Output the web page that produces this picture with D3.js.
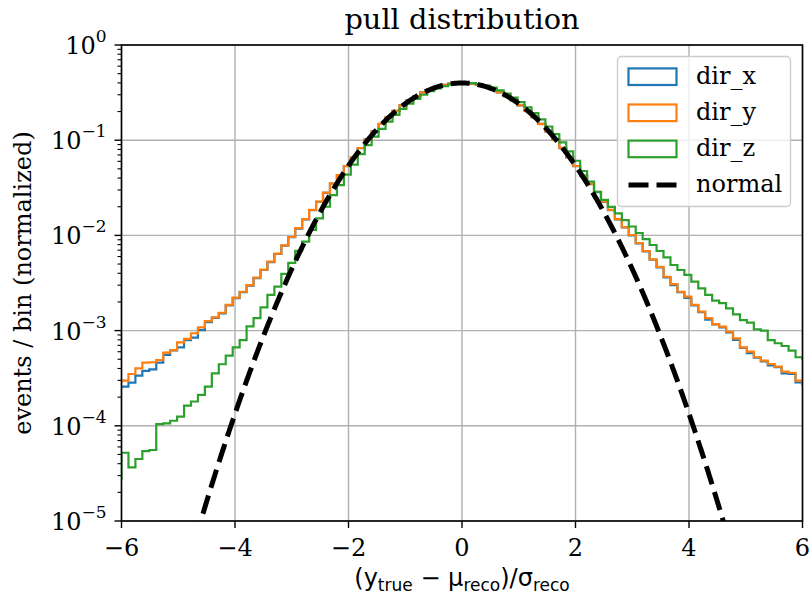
<!DOCTYPE html>
<html>
<head>
<meta charset="utf-8">
<script src="https://cdn.jsdelivr.net/npm/d3@7"></script>
<style>
  body { margin: 0; background: #fff; }
  svg { display: block; }
</style>
</head>
<body>
<svg id="chart" width="810" height="597"></svg>
<script>
// Histogram binning: 98 bins over [-6, 6] plus one overflow bin on each side
const binWidth = 12 / 98;
const binLo = -6 - binWidth;

// Normalized counts per bin (events / bin), left to right
const dirX = [
  2.55e-4,
  2.58e-4, 2.84e-4, 3.36e-4, 3.77e-4, 3.92e-4, 4.60e-4, 5.55e-4, 6.20e-4, 6.68e-4, 7.96e-4,
  8.45e-4, 1.01e-3, 1.23e-3, 1.36e-3, 1.52e-3, 1.84e-3, 2.19e-3, 2.53e-3, 2.97e-3, 3.56e-3,
  4.33e-3, 5.25e-3, 6.38e-3, 7.82e-3, 9.58e-3, 1.18e-2, 1.47e-2, 1.84e-2, 2.25e-2, 2.80e-2,
  3.51e-2, 4.30e-2, 5.35e-2, 6.56e-2, 0.0826, 0.1021, 0.1238, 0.1479, 0.1747, 0.2028,
  0.2322, 0.2615, 0.2907, 0.3178, 0.3429, 0.3637, 0.3808, 0.3921, 0.3983, 0.3979,
  0.3925, 0.3805, 0.3641, 0.3426, 0.3181, 0.2904, 0.2619, 0.2319, 0.2030, 0.1744,
  0.1482, 0.1235, 0.1018, 0.0827, 0.0660, 5.34e-2, 4.24e-2, 3.45e-2, 2.84e-2, 2.25e-2,
  1.84e-2, 1.47e-2, 1.21e-2, 1.00e-2, 8.25e-3, 6.80e-3, 5.55e-3, 4.60e-3, 3.62e-3, 3.00e-3,
  2.53e-3, 2.20e-3, 1.84e-3, 1.56e-3, 1.30e-3, 1.16e-3, 1.08e-3, 9.60e-4, 8.00e-4, 6.60e-4,
  5.80e-4, 5.20e-4, 4.75e-4, 4.30e-4, 4.12e-4, 3.55e-4, 3.50e-4, 2.85e-4,
  2.70e-4
];

const dirY = [
  2.90e-4,
  2.98e-4, 3.50e-4, 4.02e-4, 4.60e-4, 4.65e-4, 4.91e-4, 5.86e-4, 6.25e-4, 7.53e-4, 8.17e-4,
  9.38e-4, 1.08e-3, 1.26e-3, 1.38e-3, 1.54e-3, 1.86e-3, 2.22e-3, 2.56e-3, 3.01e-3, 3.61e-3,
  4.37e-3, 5.30e-3, 6.43e-3, 7.87e-3, 9.62e-3, 1.19e-2, 1.48e-2, 1.85e-2, 2.26e-2, 2.81e-2,
  3.52e-2, 4.31e-2, 5.36e-2, 6.55e-2, 0.0828, 0.1019, 0.1235, 0.1482, 0.1744, 0.2031,
  0.2318, 0.2620, 0.2902, 0.3183, 0.3425, 0.3641, 0.3803, 0.3927, 0.3978, 0.3985,
  0.3919, 0.3810, 0.3636, 0.3431, 0.3176, 0.2909, 0.2614, 0.2324, 0.2025, 0.1749,
  0.1477, 0.1240, 0.1014, 0.0830, 0.0662, 5.36e-2, 4.26e-2, 3.47e-2, 2.86e-2, 2.26e-2,
  1.85e-2, 1.48e-2, 1.22e-2, 1.01e-2, 8.32e-3, 6.86e-3, 5.61e-3, 4.66e-3, 3.68e-3, 3.08e-3,
  2.56e-3, 2.27e-3, 1.86e-3, 1.58e-3, 1.35e-3, 1.17e-3, 1.10e-3, 9.73e-4, 8.30e-4, 6.68e-4,
  6.00e-4, 5.25e-4, 4.83e-4, 4.46e-4, 4.18e-4, 3.70e-4, 3.61e-4, 2.98e-4,
  2.80e-4
];

const dirZ = [
  2.80e-5,
  5.21e-5, 3.66e-5, 4.48e-5, 5.43e-5, 5.57e-5, 1.04e-4, 1.06e-4, 1.13e-4, 1.25e-4, 1.63e-4,
  1.80e-4, 2.11e-4, 2.58e-4, 3.56e-4, 4.43e-4, 5.45e-4, 6.68e-4, 7.96e-4, 1.11e-3, 1.35e-3,
  1.75e-3, 2.37e-3, 2.90e-3, 3.94e-3, 5.15e-3, 6.89e-3, 8.59e-3, 1.14e-2, 1.51e-2, 2.00e-2,
  2.65e-2, 3.38e-2, 4.35e-2, 5.55e-2, 0.0713, 0.0889, 0.1090, 0.1318, 0.1570, 0.1842,
  0.2129, 0.2424, 0.2718, 0.3003, 0.3269, 0.3505, 0.3703, 0.3853, 0.3950, 0.3989,
  0.3968, 0.3889, 0.3754, 0.3571, 0.3345, 0.3088, 0.2807, 0.2515, 0.2219, 0.1929,
  0.1651, 0.1393, 0.1158, 0.0948, 0.0764, 0.0608, 0.0475, 0.0367, 2.86e-2, 2.36e-2,
  1.99e-2, 1.70e-2, 1.45e-2, 1.24e-2, 1.06e-2, 9.16e-3, 7.93e-3, 6.86e-3, 5.89e-3, 4.89e-3,
  4.33e-3, 3.84e-3, 3.27e-3, 2.78e-3, 2.37e-3, 2.06e-3, 1.94e-3, 1.71e-3, 1.48e-3, 1.29e-3,
  1.21e-3, 1.03e-3, 9.98e-4, 7.96e-4, 7.36e-4, 6.89e-4, 6.15e-4, 5.25e-4,
  5.00e-4
];

// Reference standard normal density
const normalMu = 0;
const normalSigma = 1;

const seriesNames = ["dir_x", "dir_y", "dir_z"];
const seriesColors = ["#1f77b4", "#ff7f0e", "#2ca02c"];
const xTickValues = [-6, -4, -2, 0, 2, 4, 6];
const yExponents = [-5, -4, -3, -2, -1, 0];

const titleText = "pull distribution";
const yLabelText = "events / bin (normalized)";

// ---- layout ----
const W = 810, H = 597;
const plot = { left: 121.5, right: 802.5, top: 45, bottom: 521 };
const serif = "'DejaVu Serif', serif";
const sans = "'DejaVu Sans', sans-serif";
const minus = s => String(s).replace("-", "\u2212");

const svg = d3.select("#chart");

const x = d3.scaleLinear().domain([-6, 6]).range([plot.left, plot.right]);
const y = d3.scaleLog().domain([1e-5, 1]).range([plot.bottom, plot.top]);

svg.append("defs").append("clipPath").attr("id", "plotClip")
  .append("rect")
  .attr("x", plot.left).attr("y", plot.top)
  .attr("width", plot.right - plot.left).attr("height", plot.bottom - plot.top);

// grid
const grid = svg.append("g").attr("stroke", "#b0b0b0").attr("stroke-width", 1.4);
xTickValues.forEach(v => {
  grid.append("line").attr("x1", x(v)).attr("x2", x(v))
    .attr("y1", plot.top).attr("y2", plot.bottom);
});
yExponents.forEach(e => {
  grid.append("line").attr("x1", plot.left).attr("x2", plot.right)
    .attr("y1", y(Math.pow(10, e))).attr("y2", y(Math.pow(10, e)));
});

// histograms as step outlines
const series = [dirX, dirY, dirZ];
const stepLine = d3.line()
  .x(d => x(d[0]))
  .y(d => y(d[1]))
  .curve(d3.curveStepAfter);

const marks = svg.append("g").attr("clip-path", "url(#plotClip)");
series.forEach((vals, si) => {
  const pts = vals.map((v, i) => [binLo + i * binWidth, v]);
  pts.push([binLo + vals.length * binWidth, vals[vals.length - 1]]);
  marks.append("path")
    .attr("d", stepLine(pts))
    .attr("fill", "none")
    .attr("stroke", seriesColors[si])
    .attr("stroke-width", 2.2)
    .attr("stroke-linejoin", "miter");
});

// normal density curve
const pdf = t => Math.exp(-0.5 * Math.pow((t - normalMu) / normalSigma, 2)) / (normalSigma * Math.sqrt(2 * Math.PI));
const curvePts = d3.range(0, 1201).map(i => {
  const t = -6 + i * 0.01;
  return [t, pdf(t)];
});
marks.append("path")
  .attr("d", d3.line().x(d => x(d[0])).y(d => y(d[1]))(curvePts))
  .attr("fill", "none")
  .attr("stroke", "#000")
  .attr("stroke-width", 5)
  .attr("stroke-dasharray", "19,8");

// x axis ticks and labels
const axes = svg.append("g");
xTickValues.forEach(v => {
  axes.append("line").attr("x1", x(v)).attr("x2", x(v))
    .attr("y1", plot.bottom).attr("y2", plot.bottom + 7)
    .attr("stroke", "#000").attr("stroke-width", 1.4);
  axes.append("text").attr("x", x(v)).attr("y", plot.bottom + 35)
    .attr("text-anchor", "middle")
    .attr("font-family", serif).attr("font-size", 24)
    .text(minus(v));
});

// y axis major + minor ticks
yExponents.forEach(e => {
  const v = Math.pow(10, e);
  axes.append("line").attr("x1", plot.left - 7).attr("x2", plot.left)
    .attr("y1", y(v)).attr("y2", y(v))
    .attr("stroke", "#000").attr("stroke-width", 1.4);
  const t = axes.append("text")
    .attr("x", plot.left - 15).attr("y", y(v) + 9)
    .attr("text-anchor", "end")
    .attr("font-family", serif).attr("font-size", 24);
  t.append("tspan").text("10");
  t.append("tspan").attr("dy", -12).attr("font-size", 17).text(minus(e));
  if (e < 0) {
    for (let m = 2; m <= 9; m++) {
      const mv = m * v;
      axes.append("line").attr("x1", plot.left - 4).attr("x2", plot.left)
        .attr("y1", y(mv)).attr("y2", y(mv))
        .attr("stroke", "#000").attr("stroke-width", 1.1);
    }
  }
});

// frame
svg.append("rect")
  .attr("x", plot.left).attr("y", plot.top)
  .attr("width", plot.right - plot.left).attr("height", plot.bottom - plot.top)
  .attr("fill", "none").attr("stroke", "#000").attr("stroke-width", 1.6);

// title
svg.append("text").attr("x", (plot.left + plot.right) / 2).attr("y", 29)
  .attr("text-anchor", "middle")
  .attr("font-family", serif).attr("font-size", 28.8)
  .text(titleText);

// y label
svg.append("text")
  .attr("transform", `translate(31,${(plot.top + plot.bottom) / 2}) rotate(-90)`)
  .attr("text-anchor", "middle")
  .attr("font-family", serif).attr("font-size", 24)
  .text(yLabelText);

// x label: (y_true − μ_reco)/σ_reco
const xl = svg.append("text")
  .attr("x", (plot.left + plot.right) / 2).attr("y", 586)
  .attr("text-anchor", "middle")
  .attr("font-family", sans).attr("font-size", 24);
xl.append("tspan").text("(y");
xl.append("tspan").attr("dy", 5).attr("font-size", 17).text("true");
xl.append("tspan").attr("dy", -5).text(" \u2212 \u03bc");
xl.append("tspan").attr("dy", 5).attr("font-size", 17).text("reco");
xl.append("tspan").attr("dy", -5).text(")/\u03c3");
xl.append("tspan").attr("dy", 5).attr("font-size", 17).text("reco");

// legend
const lg = svg.append("g");
lg.append("rect")
  .attr("x", 617.5).attr("y", 56.5).attr("width", 173).attr("height", 150)
  .attr("rx", 4).attr("ry", 4)
  .attr("fill", "#fff").attr("fill-opacity", 0.8)
  .attr("stroke", "#cccccc").attr("stroke-width", 1.4);

const rowY = i => 76.7 + i * 36.1;
seriesNames.forEach((name, i) => {
  lg.append("rect")
    .attr("x", 628.5).attr("y", rowY(i) - 8.3).attr("width", 48).attr("height", 16.6)
    .attr("fill", "none").attr("stroke", seriesColors[i]).attr("stroke-width", 2.2);
  lg.append("text").attr("x", 696).attr("y", rowY(i) + 7)
    .attr("font-family", serif).attr("font-size", 24).text(name);
});
lg.append("line")
  .attr("x1", 628.5).attr("x2", 676.5).attr("y1", rowY(3)).attr("y2", rowY(3))
  .attr("stroke", "#000").attr("stroke-width", 5).attr("stroke-dasharray", "20,8");
lg.append("text").attr("x", 696).attr("y", rowY(3) + 7)
  .attr("font-family", serif).attr("font-size", 24).text("normal");
</script>
</body>
</html>
